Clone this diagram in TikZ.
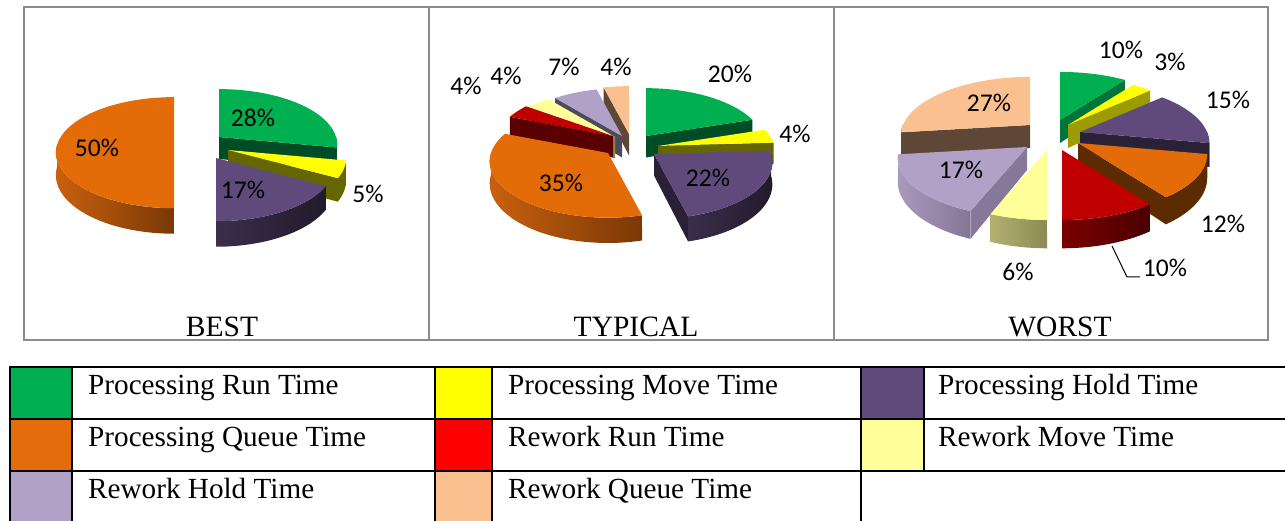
\documentclass[tikz,border=0pt]{standalone}
\usepackage{fontspec}
\setmainfont{Liberation Serif}
\newfontfamily\lblfont{Carlito}
\usetikzlibrary{calc}

% slice top colours
\definecolor{runG}{HTML}{00B050}
\definecolor{moveY}{HTML}{FFFF00}
\definecolor{holdP}{HTML}{604A7B}
\definecolor{queueO}{HTML}{E36C09}
\definecolor{rwRun}{HTML}{C00000}
\definecolor{rwRunKey}{HTML}{FF0000}
\definecolor{rwMove}{HTML}{FFFF99}
\definecolor{rwHold}{HTML}{B2A1C7}
\definecolor{rwQueue}{HTML}{FAC08F}
\definecolor{queueKey}{HTML}{E46C0A}
% side colours
\definecolor{gSide}{HTML}{004C26}
\definecolor{gSideW}{HTML}{00733A}
\definecolor{ySide}{HTML}{666600}
\definecolor{ySideW}{HTML}{9C9C00}
\definecolor{pSide}{HTML}{2A2137}
\definecolor{pSideL}{HTML}{3B2E4C}
\definecolor{pSideR}{HTML}{221A2C}
\definecolor{oSideL}{HTML}{C8600E}
\definecolor{oSideR}{HTML}{7A3806}
\definecolor{oBrown}{HTML}{5C2B02}
\definecolor{rSide}{HTML}{5A0000}
\definecolor{rSideL}{HTML}{7A0000}
\definecolor{rSideR}{HTML}{4A0000}
\definecolor{lySide}{HTML}{8C8C4A}
\definecolor{lySideL}{HTML}{B3B070}
\definecolor{lySideR}{HTML}{8C8A55}
\definecolor{lvSide}{HTML}{4E4A5C}
\definecolor{lvSideW}{HTML}{87789A}
\definecolor{lvSideL}{HTML}{A999BD}
\definecolor{lvSideR}{HTML}{857595}
\definecolor{qSide}{HTML}{5E4737}
\definecolor{frameGray}{HTML}{8C8C8C}

% perspective pie: point on rim at angle t relative to the slice apex
\tikzset{
  declare function={
    px(\t)=\pR*cos(\t)/(1+\pK*sin(\t));
    py(\t)=\pRy*sin(\t)/(1+\pK*sin(\t));
    ph(\t)=\pH/(1+\pK*sin(\t));
  },
  pct/.style={font=\lblfont\fontsize{25.5}{28}\selectfont, inner sep=0pt},
  ttl/.style={font=\fontsize{29.5}{31}\selectfont, inner sep=0pt, anchor=base},
  keytxt/.style={font=\fontsize{29.2}{31}\selectfont, inner sep=0pt, anchor=base west},
  panel/.style={draw=frameGray, line width=2pt},
  grid/.style={draw=black, line width=2pt},
}

% radial cut face of a slice: apex (#1,#2), angle #3, colour #4
\newcommand\radface[4]{%
  \fill[#4] (#1,#2) -- ({#1+px(#3)},{#2-py(#3)}) -- ({#1+px(#3)},{#2-py(#3)+ph(#3)}) -- (#1,{#2+\pH}) -- cycle;
}

% one slice: apex (#1,#2), angles #3..#4, top #5, cut face #6, rim shading #7 -> #8
\newcommand\pslice[8]{%
  \pgfmathsetmacro\angA{#3}%
  \pgfmathsetmacro\angB{#4}%
  \pgfmathtruncatemacro\visA{cos(\angA)>0.01}%
  \pgfmathtruncatemacro\visB{cos(\angB)<-0.01}%
  \ifnum\visA=1 \radface{#1}{#2}{\angA}{#6}\fi
  \ifnum\visB=1 \radface{#1}{#2}{\angB}{#6}\fi
  \pgfmathsetmacro\rimA{max(\angA,-180)}%
  \pgfmathsetmacro\rimB{min(\angB,0)}%
  \pgfmathsetmacro\rimD{\rimB-\rimA}%
  \pgfmathtruncatemacro\rimOn{\rimD>0.5}%
  \ifnum\rimOn=1
    \shade[left color=#7,right color=#8]
      plot[domain=0:1,samples=30,variable=\u] ({#1+px(\rimA+\rimD*\u)},{#2-py(\rimA+\rimD*\u)})
      -- plot[domain=0:1,samples=30,variable=\u] ({#1+px(\rimB-\rimD*\u)},{#2-py(\rimB-\rimD*\u)+ph(\rimB-\rimD*\u)})
      -- cycle;
  \fi
  \fill[#5] (#1,#2) -- plot[domain=\angA:\angB,samples=40,variable=\u] ({#1+px(\u)},{#2-py(\u)}) -- cycle;
}

\begin{document}
\begin{tikzpicture}[x=1pt,y=-1pt]
\useasboundingbox (0,0) rectangle (1285,521);

% ---------- BEST ----------
\def\pR{117}\def\pRy{54.5}\def\pK{0.138}\def\pH{22}
\pslice{219}{137}{-10.8}{90}{runG}{gSide}{gSide}{gSide}
\pslice{228}{150}{-28.8}{-10.8}{moveY}{ySide}{ySide}{ySide}
\pslice{216}{158}{-90}{-28.8}{holdP}{pSide}{pSideL}{pSideR}
\pslice{174}{145}{-270}{-90}{queueO}{oSideR}{oSideL}{oSideR}

% ---------- TYPICAL ----------
\def\pR{117}\def\pRy{55}\def\pK{0.15}\def\pH{21.5}
\pslice{629}{134}{-270}{-255.6}{rwQueue}{qSide}{qSide}{qSide}
\pslice{622}{136}{-255.6}{-230.4}{rwHold}{lvSide}{lvSide}{lvSide}
\pslice{615}{137}{-230.4}{-216}{rwMove}{lySide}{lySide}{lySide}
\pslice{613}{136}{-216}{-201.6}{rwRun}{rSide}{rSide}{rSide}
\pslice{646}{136}{18}{90}{runG}{gSide}{gSide}{gSide}
\pslice{658}{146}{3.6}{18}{moveY}{ySide}{ySide}{ySide}
\pslice{654}{154}{-75.6}{3.6}{holdP}{pSide}{pSideL}{pSideR}
\pslice{608}{153}{-201.6}{-75.6}{queueO}{oSideR}{oSideL}{oSideR}

% ---------- WORST ----------
\def\pR{127}\def\pRy{57}\def\pK{0.186}\def\pH{23}
\pslice{1030}{125}{-270}{-172.8}{rwQueue}{qSide}{qSide}{qSide}
\pslice{1060}{120}{54}{90}{runG}{gSideW}{gSideW}{gSideW}
\pslice{1068}{125}{43.2}{54}{moveY}{ySideW}{ySideW}{ySideW}
\pslice{1080}{132}{-10.8}{43.2}{holdP}{pSide}{pSide}{pSide}
\pslice{1027}{147}{-172.8}{-111.6}{rwHold}{lvSideW}{lvSideL}{lvSideR}
\pslice{1078}{143}{-54}{-10.8}{queueO}{oBrown}{oBrown}{oBrown}
\pslice{1047}{150}{-111.6}{-90}{rwMove}{lySide}{lySideL}{lySideR}
\pslice{1062}{150}{-90}{-54}{rwRun}{rSide}{rSideL}{rSideR}

% ---------- percentage labels ----------
\node[pct] (b28) at (253,118) {28\%};
\node[pct] (b50) at (97,148) {50\%};
\node[pct] (b17) at (243,190) {17\%};
\node[pct] (b5)  at (368,194) {5\%};

\node[pct] (t20) at (730,74) {20\%};
\node[pct] (t4a) at (795,134) {4\%};
\node[pct] (t22) at (708,178) {22\%};
\node[pct] (t35) at (561,183) {35\%};
\node[pct] (t4b) at (466,86) {4\%};
\node[pct] (t4c) at (506,76) {4\%};
\node[pct] (t7)  at (564,67) {7\%};
\node[pct] (t4d) at (616,67) {4\%};

\node[pct] (w10a) at (1121,50) {10\%};
\node[pct] (w3)   at (1170,62) {3\%};
\node[pct] (w15)  at (1228,100) {15\%};
\node[pct] (w12)  at (1223,224) {12\%};
\node[pct] (w10b) at (1165,268) {10\%};
\node[pct] (w6)   at (1018,272) {6\%};
\node[pct] (w27)  at (989,103) {27\%};
\node[pct] (w17)  at (961,170) {17\%};

% leader line of the rework run label
\coordinate (ldA) at (1112,246);
\coordinate (ldB) at (1127,277);
\draw[line width=1pt] (ldA) -- (ldB) -- ($(ldB -| w10b.west)+(-3,0)$);

% ---------- panel frame and titles ----------
\draw[panel] (24,7) rectangle (1268,340);
\draw[panel] (429,7) -- (429,340);
\draw[panel] (834,7) -- (834,340);
\node[ttl] (tB) at (222,337) {BEST};
\node[ttl] (tT) at (636,337) {TYPICAL};
\node[ttl] (tW) at (1060,337) {WORST};

% ---------- legend table ----------
\fill[runG]     (10,367) rectangle (72,419);
\fill[queueKey] (10,419) rectangle (72,471);
\fill[rwHold]   (10,471) rectangle (72,523);
\fill[moveY]    (435,367) rectangle (492,419);
\fill[rwRunKey] (435,419) rectangle (492,471);
\fill[rwQueue]  (435,471) rectangle (492,523);
\fill[holdP]    (861,367) rectangle (924,419);
\fill[rwMove]   (861,419) rectangle (924,471);

\draw[grid] (10,367) -- (1290,367);
\draw[grid] (10,419) -- (1290,419);
\draw[grid] (10,471) -- (1290,471);
\draw[grid] (10,366) -- (10,525);
\draw[grid] (72,366) -- (72,525);
\draw[grid] (435,366) -- (435,525);
\draw[grid] (492,366) -- (492,525);
\draw[grid] (861,366) -- (861,525);
\draw[grid] (924,366) -- (924,471);

\node[keytxt] (k1) at (88,394)  {Processing Run Time};
\node[keytxt] (k2) at (508,394) {Processing Move Time};
\node[keytxt] (k3) at (938,394) {Processing Hold Time};
\node[keytxt] (k4) at (88,446)  {Processing Queue Time};
\node[keytxt] (k5) at (508,446) {Rework Run Time};
\node[keytxt] (k6) at (938,446) {Rework Move Time};
\node[keytxt] (k7) at (88,498)  {Rework Hold Time};
\node[keytxt] (k8) at (508,498) {Rework Queue Time};
\end{tikzpicture}
\end{document}
